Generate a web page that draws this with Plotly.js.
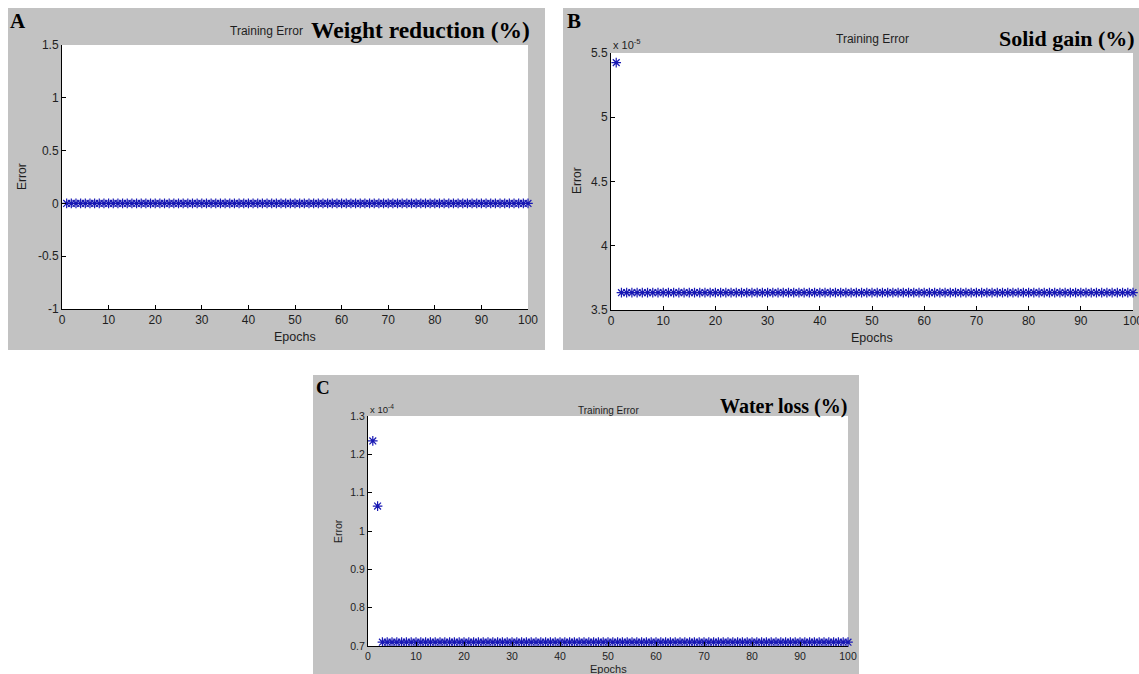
<!DOCTYPE html>
<html>
<head>
<meta charset="utf-8">
<script src="https://cdn.plot.ly/plotly-3.0.1.min.js"></script>
<style>
html,body{margin:0;padding:0;background:#fff;}
#chart{width:1139px;height:674px;}
</style>
</head>
<body>
<div id="chart"></div>
<script>
// ---------------- DATA ----------------
var epochs = [1,2,3,4,5,6,7,8,9,10,11,12,13,14,15,16,17,18,19,20,21,22,23,24,25,26,27,28,29,30,31,32,33,34,35,36,37,38,39,40,41,42,43,44,45,46,47,48,49,50,51,52,53,54,55,56,57,58,59,60,61,62,63,64,65,66,67,68,69,70,71,72,73,74,75,76,77,78,79,80,81,82,83,84,85,86,87,88,89,90,91,92,93,94,95,96,97,98,99,100];

// A: Weight reduction (%) training error
var weightReductionError = [0,0,0,0,0,0,0,0,0,0,0,0,0,0,0,0,0,0,0,0,0,0,0,0,0,0,0,0,0,0,0,0,0,0,0,0,0,0,0,0,0,0,0,0,0,0,0,0,0,0,0,0,0,0,0,0,0,0,0,0,0,0,0,0,0,0,0,0,0,0,0,0,0,0,0,0,0,0,0,0,0,0,0,0,0,0,0,0,0,0,0,0,0,0,0,0,0,0,0,0];

// B: Solid gain (%) training error
var solidGainError = [5.425e-5,3.635e-5,3.635e-5,3.635e-5,3.635e-5,3.635e-5,3.635e-5,3.635e-5,3.635e-5,3.635e-5,3.635e-5,3.635e-5,3.635e-5,3.635e-5,3.635e-5,3.635e-5,3.635e-5,3.635e-5,3.635e-5,3.635e-5,3.635e-5,3.635e-5,3.635e-5,3.635e-5,3.635e-5,3.635e-5,3.635e-5,3.635e-5,3.635e-5,3.635e-5,3.635e-5,3.635e-5,3.635e-5,3.635e-5,3.635e-5,3.635e-5,3.635e-5,3.635e-5,3.635e-5,3.635e-5,3.635e-5,3.635e-5,3.635e-5,3.635e-5,3.635e-5,3.635e-5,3.635e-5,3.635e-5,3.635e-5,3.635e-5,3.635e-5,3.635e-5,3.635e-5,3.635e-5,3.635e-5,3.635e-5,3.635e-5,3.635e-5,3.635e-5,3.635e-5,3.635e-5,3.635e-5,3.635e-5,3.635e-5,3.635e-5,3.635e-5,3.635e-5,3.635e-5,3.635e-5,3.635e-5,3.635e-5,3.635e-5,3.635e-5,3.635e-5,3.635e-5,3.635e-5,3.635e-5,3.635e-5,3.635e-5,3.635e-5,3.635e-5,3.635e-5,3.635e-5,3.635e-5,3.635e-5,3.635e-5,3.635e-5,3.635e-5,3.635e-5,3.635e-5,3.635e-5,3.635e-5,3.635e-5,3.635e-5,3.635e-5,3.635e-5,3.635e-5,3.635e-5,3.635e-5,3.635e-5];

// C: Water loss (%) training error
var waterLossError = [1.235e-4,1.065e-4,0.71e-4,0.71e-4,0.71e-4,0.71e-4,0.71e-4,0.71e-4,0.71e-4,0.71e-4,0.71e-4,0.71e-4,0.71e-4,0.71e-4,0.71e-4,0.71e-4,0.71e-4,0.71e-4,0.71e-4,0.71e-4,0.71e-4,0.71e-4,0.71e-4,0.71e-4,0.71e-4,0.71e-4,0.71e-4,0.71e-4,0.71e-4,0.71e-4,0.71e-4,0.71e-4,0.71e-4,0.71e-4,0.71e-4,0.71e-4,0.71e-4,0.71e-4,0.71e-4,0.71e-4,0.71e-4,0.71e-4,0.71e-4,0.71e-4,0.71e-4,0.71e-4,0.71e-4,0.71e-4,0.71e-4,0.71e-4,0.71e-4,0.71e-4,0.71e-4,0.71e-4,0.71e-4,0.71e-4,0.71e-4,0.71e-4,0.71e-4,0.71e-4,0.71e-4,0.71e-4,0.71e-4,0.71e-4,0.71e-4,0.71e-4,0.71e-4,0.71e-4,0.71e-4,0.71e-4,0.71e-4,0.71e-4,0.71e-4,0.71e-4,0.71e-4,0.71e-4,0.71e-4,0.71e-4,0.71e-4,0.71e-4,0.71e-4,0.71e-4,0.71e-4,0.71e-4,0.71e-4,0.71e-4,0.71e-4,0.71e-4,0.71e-4,0.71e-4,0.71e-4,0.71e-4,0.71e-4,0.71e-4,0.71e-4,0.71e-4,0.71e-4,0.71e-4,0.71e-4,0.71e-4];

// Tick labels
var xTickVals = [0,10,20,30,40,50,60,70,80,90,100];
var xTickText = ['0','10','20','30','40','50','60','70','80','90','100'];
var yTickValsA = [-1,-0.5,0,0.5,1,1.5];
var yTickTextA = ['-1','-0.5','0','0.5','1','1.5'];
var yTickValsB = [3.5e-5,4e-5,4.5e-5,5e-5,5.5e-5];
var yTickTextB = ['3.5','4','4.5','5','5.5'];
var yTickValsC = [0.7e-4,0.8e-4,0.9e-4,1.0e-4,1.1e-4,1.2e-4,1.3e-4];
var yTickTextC = ['0.7','0.8','0.9','1','1.1','1.2','1.3'];

// Text
var panelLetters = ['A','B','C'];
var panelTitles = ['Weight reduction (%)','Solid gain (%)','Water loss (%)'];
var plotTitle = 'Training Error';
var xLabel = 'Epochs';
var yLabel = 'Error';
var multiplierB = 'x 10<sup>-5</sup>';
var multiplierC = 'x 10<sup>-4</sup>';

// ---------------- LAYOUT HELPERS ----------------
var W = 1139, H = 674;
function px(x){ return x / W; }
function py(y){ return 1 - y / H; }

var GRAY = '#c2c2c2';
var STAR = '#1818b4';
var SANS = 'Liberation Sans, Arial, sans-serif';
var SERIF = 'Liberation Serif, Times New Roman, serif';
var TXT = '#1e1e1e';

function starTrace(x, y, xa, ya){
  return {
    type: 'scatter', mode: 'markers', x: x, y: y, xaxis: xa, yaxis: ya,
    marker: {symbol: 'asterisk-open', size: 8, color: STAR, line: {color: STAR, width: 1.2}},
    hoverinfo: 'x+y', showlegend: false, cliponaxis: false
  };
}

var data = [
  starTrace(epochs, weightReductionError, 'x', 'y'),
  starTrace(epochs, solidGainError, 'x2', 'y2'),
  starTrace(epochs, waterLossError, 'x3', 'y3')
];

function xAxis(domain, anchor, fs){
  return {
    domain: domain, anchor: anchor, range: [0, 100],
    tickmode: 'array', tickvals: xTickVals, ticktext: xTickText,
    ticks: 'inside', ticklen: 4, tickwidth: 1, tickcolor: '#000',
    showline: true, linecolor: '#000', linewidth: 1, mirror: false,
    showgrid: false, zeroline: false, ticklabeloverflow: 'allow',
    tickfont: {family: SANS, size: fs, color: TXT}, fixedrange: true
  };
}
function yAxis(domain, anchor, range, tv, tt, fs){
  return {
    domain: domain, anchor: anchor, range: range,
    tickmode: 'array', tickvals: tv, ticktext: tt,
    ticks: 'inside', ticklen: 4, tickwidth: 1, tickcolor: '#000',
    showline: true, linecolor: '#000', linewidth: 1, mirror: false,
    showgrid: false, zeroline: false, ticklabeloverflow: 'allow',
    tickfont: {family: SANS, size: fs, color: TXT}, fixedrange: true
  };
}

// plot rectangles in pixels: [left, right, top, bottom]
var rA = [62, 528, 45, 309];
var rB = [611, 1133, 53, 310];
var rC = [368, 848, 416, 646];

function xd(r){ return [px(r[0]), px(r[1])]; }
function yd(r){ return [py(r[3]), py(r[2])]; }

function grayRect(x0, x1, y0, y1){
  return {type: 'rect', xref: 'paper', yref: 'paper', x0: px(x0), x1: px(x1), y0: py(y1), y1: py(y0),
          fillcolor: GRAY, line: {width: 0}, layer: 'below'};
}
function whiteRect(xa, ya){
  return {type: 'rect', xref: xa + ' domain', yref: ya + ' domain', x0: 0, x1: 1, y0: 0, y1: 1,
          fillcolor: '#ffffff', line: {width: 0}, layer: 'below'};
}

function ann(text, x, y, opts){
  var a = {text: text, xref: 'paper', yref: 'paper', x: px(x), y: py(y), showarrow: false,
           xanchor: 'center', yanchor: 'middle', font: {family: SANS, size: 12, color: TXT}};
  for (var k in opts) a[k] = opts[k];
  return a;
}

var annotations = [
  // Panel A
  ann(panelLetters[0], 8, 21, {xanchor: 'left', font: {family: SERIF, size: 21, color: '#000', weight: 'bold'}}),
  ann(plotTitle, 266, 31, {font: {family: SANS, size: 12, color: TXT}}),
  ann(panelTitles[0], 532, 30, {xanchor: 'right', font: {family: SERIF, size: 23.5, color: '#000', weight: 'bold'}}),
  ann(yLabel, 22, 177, {textangle: -90, font: {family: SANS, size: 12, color: TXT}}),
  ann(xLabel, 295, 337, {font: {family: SANS, size: 12.5, color: TXT}}),
  // Panel B
  ann(panelLetters[1], 565, 21, {xanchor: 'left', font: {family: SERIF, size: 21, color: '#000', weight: 'bold'}}),
  ann(plotTitle, 872, 39, {font: {family: SANS, size: 12, color: TXT}}),
  ann(panelTitles[1], 1137, 39, {xanchor: 'right', font: {family: SERIF, size: 22, color: '#000', weight: 'bold'}}),
  ann(multiplierB, 611, 44, {xanchor: 'left', font: {family: SANS, size: 11, color: TXT}}),
  ann(yLabel, 577, 181, {textangle: -90, font: {family: SANS, size: 12, color: TXT}}),
  ann(xLabel, 872, 338, {font: {family: SANS, size: 12.5, color: TXT}}),
  // Panel C
  ann(panelLetters[2], 314, 387, {xanchor: 'left', font: {family: SERIF, size: 19, color: '#000', weight: 'bold'}}),
  ann(plotTitle, 608, 410, {font: {family: SANS, size: 10, color: TXT}}),
  ann(panelTitles[2], 849, 406, {xanchor: 'right', font: {family: SERIF, size: 20, color: '#000', weight: 'bold'}}),
  ann(multiplierC, 368, 409, {xanchor: 'left', font: {family: SANS, size: 9.5, color: TXT}}),
  ann(yLabel, 338, 531, {textangle: -90, font: {family: SANS, size: 10.5, color: TXT}}),
  ann(xLabel, 608, 669, {font: {family: SANS, size: 11, color: TXT}})
];

var layout = {
  width: W, height: H,
  margin: {l: 0, r: 0, t: 0, b: 0, pad: 0},
  paper_bgcolor: '#ffffff', plot_bgcolor: 'rgba(0,0,0,0)',
  showlegend: false,
  xaxis: xAxis(xd(rA), 'y', 12),
  yaxis: yAxis(yd(rA), 'x', [-1, 1.5], yTickValsA, yTickTextA, 12),
  xaxis2: xAxis(xd(rB), 'y2', 12),
  yaxis2: yAxis(yd(rB), 'x2', [3.5e-5, 5.5e-5], yTickValsB, yTickTextB, 12),
  xaxis3: xAxis(xd(rC), 'y3', 10.5),
  yaxis3: yAxis(yd(rC), 'x3', [0.7e-4, 1.3e-4], yTickValsC, yTickTextC, 10.5),
  shapes: [
    grayRect(8, 545, 8, 350),
    grayRect(563, 1139, 8, 350),
    grayRect(313, 859, 375, 674),
    whiteRect('x', 'y'),
    whiteRect('x2', 'y2'),
    whiteRect('x3', 'y3')
  ],
  annotations: annotations
};

Plotly.newPlot('chart', data, layout, {staticPlot: true, displayModeBar: false});
</script>
</body>
</html>
